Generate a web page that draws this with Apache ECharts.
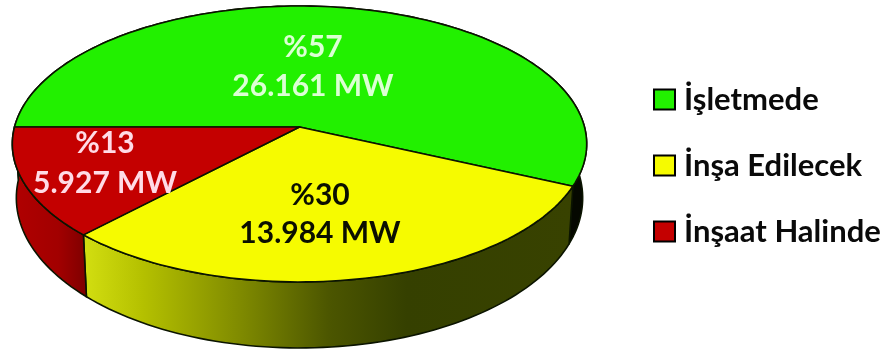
<!DOCTYPE html>
<html>
<head>
<meta charset="utf-8">
<style>html,body{margin:0;padding:0;background:#fff}#c{width:884px;height:352px}</style>
<script src="https://cdn.jsdelivr.net/npm/echarts@6/dist/echarts.min.js"></script>
</head>
<body>
<div id="c"></div>
<script>
// Installed capacity by project status
const statuses = ['İşletmede', 'İnşa Edilecek', 'İnşaat Halinde'];
const capacityMW = [26161, 13984, 5927];
const percentLabels = ['%57', '%30', '%13'];
const capacityLabels = ['26.161 MW', '13.984 MW', '5.927 MW'];

// Appearance of each slice
const topColors = ['#22f000', '#f6fb00', '#c40000'];
const labelColors = ['#dcffd4', '#0b0f00', '#ffdbe6'];
const labelCentres = [[313, 47, 86], [320, 195, 233], [105, 143, 183]];

// Tilted-disc projection: unit disc -> screen
const CX = 299.5, APEX_Y = 127, KX = 285, KY = 120.26, PERSP = -0.123;
const START_DEG = 180;

function project(u, v) {
  const d = 1 + PERSP * v;
  return [CX + KX * u / d, (KY * v + APEX_Y) / d];
}
// Rim of the lower face: a slightly narrower, deeper ellipse below the top one
function projectBase(u, v) {
  const p = project(u, v);
  return [CX + (p[0] - CX) * 283 / 287, 198 + 150 * (p[1] - 144) / 138];
}
function arc(fromDeg, toDeg, fn) {
  const pts = [];
  const n = Math.max(2, Math.ceil(Math.abs(toDeg - fromDeg) / 1.5));
  for (let i = 0; i <= n; i++) {
    const a = (fromDeg + (toDeg - fromDeg) * i / n) * Math.PI / 180;
    pts.push(fn(Math.cos(a), Math.sin(a)));
  }
  return pts;
}

const wallFills = [
  '#050800',
  { type: 'linear', x: 85, y: 0, x2: 572, y2: 0, global: true, colorStops: [
    { offset: 0, color: '#d2de10' },
    { offset: 0.12, color: '#b4c000' },
    { offset: 0.32, color: '#7f8a00' },
    { offset: 0.5, color: '#4c5600' },
    { offset: 0.66, color: '#354000' },
    { offset: 1, color: '#384200' }
  ] },
  { type: 'linear', x: 14, y: 0, x2: 88, y2: 0, global: true, colorStops: [
    { offset: 0, color: '#b00000' },
    { offset: 0.6, color: '#a20000' },
    { offset: 1, color: '#7c0000' }
  ] }
];

const total = capacityMW.reduce((a, b) => a + b, 0);
const starts = [];
capacityMW.reduce((acc, v, i) => { starts[i] = acc; return acc + v / total * 360; }, START_DEG);

const series = statuses.map((name, i) => ({
  type: 'custom',
  name,
  coordinateSystem: 'none',
  itemStyle: { color: topColors[i], borderColor: '#000', borderWidth: 2 },
  data: [[capacityMW[i]]],
  silent: true,
  renderItem: (params, api) => {
    const value = api.value(0);
    const a0 = starts[i], a1 = a0 + value / total * 360;
    const rim = arc(a0, a1, project);
    const base = arc(a1, a0, projectBase);
    const outline = { stroke: '#0b1400', lineWidth: 1.6, lineJoin: 'round' };
    const c = labelCentres[i];
    const textOf = (t, y) => ({
      type: 'text', z2: 20,
      style: { text: t, x: c[0], y, align: 'center', verticalAlign: 'middle',
        font: 'bold 30px Lato, "Open Sans", sans-serif', fill: labelColors[i] }
    });
    return {
      type: 'group',
      children: [
        { type: 'polygon', z2: 1, shape: { points: rim.concat(base) },
          style: Object.assign({ fill: wallFills[i] }, outline) },
        { type: 'polygon', z2: 10, shape: { points: [project(0, 0)].concat(rim) },
          style: Object.assign({ fill: topColors[i] }, outline) },
        textOf(percentLabels[i], c[1]),
        textOf(capacityLabels[i], c[2])
      ]
    };
  }
}));

const chart = echarts.init(document.getElementById('c'), null, { renderer: 'canvas' });
chart.setOption({
  animation: false,
  backgroundColor: '#ffffff',
  legend: {
    data: statuses.map(name => ({ name, icon: 'rect' })),
    orient: 'vertical',
    left: 653,
    top: 84,
    padding: 0,
    itemWidth: 21,
    itemHeight: 20,
    itemGap: 35,
    selectedMode: false,
    itemStyle: { borderColor: '#000', borderWidth: 2 },
    textStyle: { fontFamily: 'Lato, "Open Sans", sans-serif', fontWeight: 'bold', fontSize: 31, color: '#0a0a0a', padding: [0, 0, 0, 4] }
  },
  series
});
</script>
</body>
</html>
